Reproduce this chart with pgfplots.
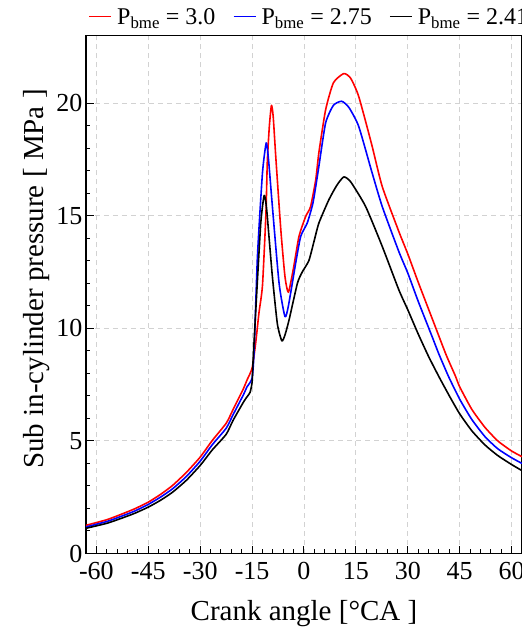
\documentclass[border=0pt]{standalone}
\usepackage{fontspec}
\setmainfont{Liberation Serif}
\usepackage{pgfplots}
\pgfplotsset{compat=1.18}

\newcommand{\legline}[1]{\textcolor{#1}{\rule[0.3em]{22pt}{1.6pt}}\hspace{6pt}}

\begin{document}
\begin{tikzpicture}
\begin{axis}[
    scale only axis,
    width=436pt, height=518pt,
    xmin=-63, xmax=63,
    ymin=0, ymax=23,
    xtick={-60,-45,-30,-15,0,15,30,45,60},
    xticklabels={-60,-45,-30,-15,0,15,30,45,60},
    ytick={0,5,10,15,20},
    yticklabels={0,5,10,15,20},
    minor x tick num=4,
    minor y tick num=4,
    tick align=inside,
    tick pos=left,
    major tick length=8pt,
    minor tick length=4.5pt,
    tick style={black, line width=1pt},
    axis line style={black, line width=1.3pt},
    grid=major,
    major grid style={draw=gray!35, dash pattern=on 5pt off 4pt, line width=0.9pt},
    tick label style={font=\fontsize{26}{30}\selectfont},
    xticklabel style={yshift=-5pt},
    label style={font=\fontsize{29}{34}\selectfont},
    xlabel={Crank angle [°CA ]},
    xlabel style={at={(axis description cs:0.5,0)}, anchor=base, yshift=-67pt},
    ylabel={Sub in-cylinder pressure [ MPa ]},
    ylabel style={at={(ticklabel cs:0.53)}},
    every axis plot/.append style={line width=1.6pt, line join=round},
]

% Pbme = 3.0
\addplot[red, smooth, tension=0.35] coordinates {
(-63,1.25)(-57,1.5)(-53,1.73)(-49,1.98)(-45,2.28)(-41.5,2.62)(-38,3.02)(-34,3.6)
(-30,4.28)(-26.5,5.02)(-22.5,5.78)(-20.5,6.39)(-17.5,7.32)(-16.5,7.69)(-15,8.23)
(-14,9.3)(-13,10.7)(-12,11.9)(-11,15.1)(-10.6,17.4)(-10,19.0)(-9.4,19.9)(-8.9,19.4)
(-8.15,17.6)(-6.7,14.38)(-5.5,12.3)(-4.5,11.6)(-3,12.7)(-1.45,14.08)(0.5,14.97)
(1.9,15.4)(3.4,16.6)(4.3,17.8)(6.25,19.7)(8.5,20.9)(11.5,21.31)(13.5,21.1)(15.8,20.3)
(19.5,18.2)(22.6,16.3)(27.4,14.3)(30,13.3)(33,12.05)(37,10.45)(41,8.85)(43.7,7.9)
(45,7.4)(48.5,6.4)(52.3,5.6)(56,5.0)(60,4.55)(63,4.3)
};

% Pbme = 2.75
\addplot[blue, smooth, tension=0.35] coordinates {
(-63,1.18)(-57,1.42)(-53,1.64)(-49,1.88)(-45,2.18)(-41.5,2.5)(-38,2.87)(-34,3.42)
(-30,4.10)(-26.5,4.83)(-22.5,5.56)(-20.5,6.16)(-17.5,7.05)(-16.5,7.39)(-15,7.79)
(-14.4,9.04)(-13.45,13.2)(-12,16.9)(-10.9,18.23)(-10.2,17.4)(-9.13,15.4)(-7.2,12.0)
(-5.5,10.52)(-4.5,11.0)(-2.4,12.9)(-0.95,14.08)(0.95,14.68)(2.5,15.5)(3.4,16.3)
(4.3,17.19)(6.25,19.12)(8.5,19.9)(10.9,20.08)(13,19.8)(15.8,18.97)(19.5,17.0)
(22.6,15.41)(27.4,13.41)(30,12.45)(33,11.2)(37,9.64)(39,8.85)(41.8,7.85)(45,6.85)
(48.5,5.95)(52.3,5.19)(56,4.65)(60,4.25)(63,4.0)
};

% Pbme = 2.41
\addplot[black, smooth, tension=0.35] coordinates {
(-63,1.12)(-57,1.34)(-53,1.55)(-49,1.78)(-45,2.06)(-41.5,2.36)(-38,2.72)(-34,3.25)
(-30,3.91)(-26.5,4.6)(-22.5,5.29)(-20.5,5.91)(-17.5,6.72)(-16.5,6.95)(-15.6,7.15)
(-15,7.6)(-14.7,8.6)(-13.9,10.9)(-12.5,14.65)(-11.5,15.9)(-10.8,15.3)(-9.2,12.4)
(-7.7,10.2)(-6.4,9.44)(-5.5,9.7)(-4.3,10.38)(-1.9,12.0)(-0.5,12.5)(1.4,13.0)
(2.8,13.8)(4.3,14.67)(7.2,15.71)(9.5,16.35)(11.5,16.72)(13.5,16.5)(17.8,15.41)
(22.6,13.64)(27.4,11.71)(30,10.82)(33,9.75)(36,8.75)(39,7.85)(42,7.0)(45,6.2)
(48.5,5.45)(52.3,4.82)(56,4.35)(60,3.95)(63,3.68)
};

\end{axis}
% legend row above the axis
\node[anchor=base west, inner sep=0pt, font=\fontsize{24}{28}\selectfont]
  at ([xshift=3pt, yshift=11pt]current axis.north west)
  {\legline{red}P\textsubscript{bme} = 3.0\hspace{18pt}%
   \legline{blue}P\textsubscript{bme} = 2.75\hspace{18pt}%
   \legline{black}P\textsubscript{bme} = 2.41};
\path (current axis.south west) ++(-86pt,-73.5pt) coordinate (bbA);
\path (current axis.north east) ++(0pt,35.5pt) coordinate (bbB);
\pgfresetboundingbox
\useasboundingbox (bbA) rectangle (bbB);
\end{tikzpicture}
\end{document}
